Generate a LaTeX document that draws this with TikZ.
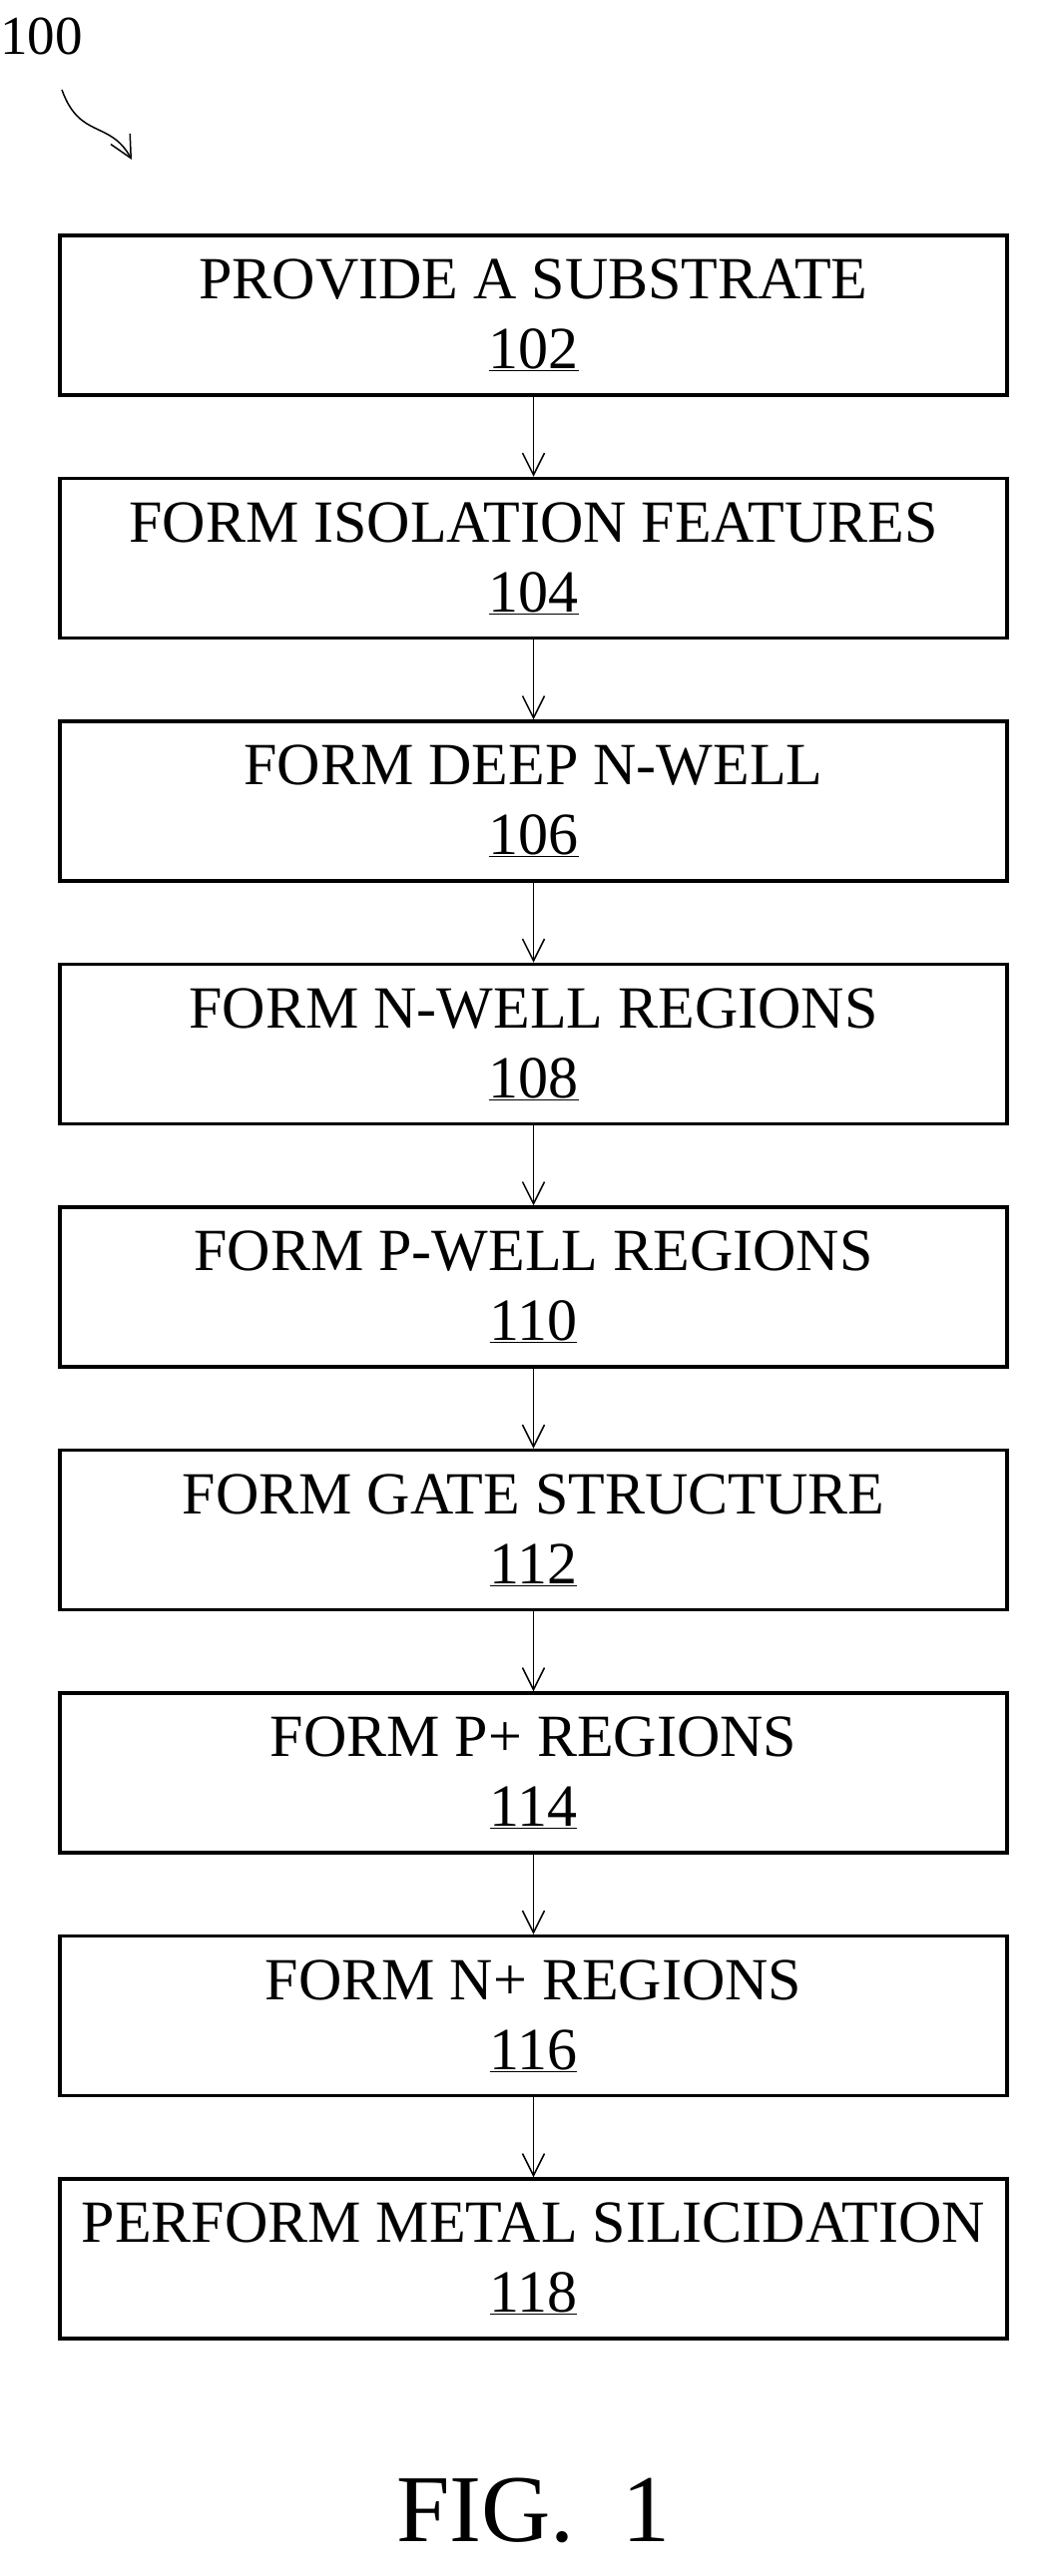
\documentclass[tikz,border=0pt]{standalone}
\usepackage{fontspec}
\setmainfont{Liberation Serif}
\usetikzlibrary{positioning,arrows.meta}
\tikzset{
  stepbox/.style={draw, line width=3.5pt, rectangle, minimum width=949pt, minimum height=160pt,
    align=center, font=\fontsize{60}{70}\selectfont, inner sep=0pt},
  arrow/.style={line width=1.5pt, -{Straight Barb[length=22pt,width=22pt,line width=1.5pt]}}
}
\begin{document}
\begin{tikzpicture}[x=1pt,y=-1pt]
  \useasboundingbox (0,0) rectangle (1041,2582);
  % label of the method
  \node[font=\fontsize{55}{55}\selectfont, anchor=north west, inner sep=0pt] (label) at (0,18) {100};
  \coordinate (tip) at (132,160);
  \draw[arrow] (62,90) .. controls (80,140) and (110,120) .. (tip);
  % steps
  \node[stepbox] (s102) at (534.5,316) {PROVIDE A SUBSTRATE\\\underline{102}};
  \node[stepbox, below=80pt of s102] (s104) {FORM ISOLATION FEATURES\\\underline{104}};
  \node[stepbox, below=80pt of s104] (s106) {FORM DEEP N-WELL\\\underline{106}};
  \node[stepbox, below=80pt of s106] (s108) {FORM N-WELL REGIONS\\\underline{108}};
  \node[stepbox, below=80pt of s108] (s110) {FORM P-WELL REGIONS\\\underline{110}};
  \node[stepbox, below=80pt of s110] (s112) {FORM GATE STRUCTURE\\\underline{112}};
  \node[stepbox, below=80pt of s112] (s114) {FORM P+ REGIONS\\\underline{114}};
  \node[stepbox, below=80pt of s114] (s116) {FORM N+ REGIONS\\\underline{116}};
  \node[stepbox, below=80pt of s116] (s118) {PERFORM METAL SILICIDATION\\\underline{118}};
  \foreach \a/\b in {s102/s104,s104/s106,s106/s108,s108/s110,s110/s112,s112/s114,s114/s116,s116/s118}
    \draw[arrow] (\a) -- (\b);
  % figure caption
  \node[font=\fontsize{96}{96}\selectfont, below=135pt of s118] (fig) {FIG.\ \ 1};
\end{tikzpicture}
\end{document}
